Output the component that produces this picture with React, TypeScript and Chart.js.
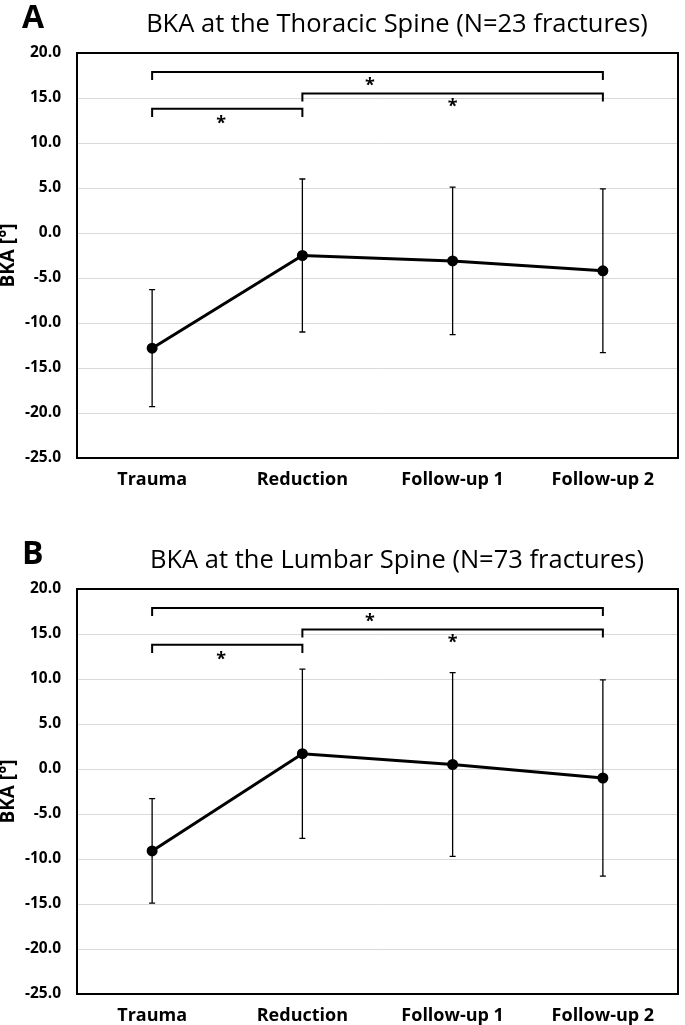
import React, { useEffect, useRef } from "react";
import { Chart, registerables } from "chart.js";

Chart.register(...registerables);

// ---- data ----
const categories = ["Trauma", "Reduction", "Follow-up 1", "Follow-up 2"];

const thoracicTitle = "BKA at the Thoracic Spine (N=23 fractures)";
const thoracicMean = [-12.8, -2.5, -3.1, -4.2];
const thoracicSD = [6.5, 8.5, 8.2, 9.1];

const lumbarTitle = "BKA at the Lumbar Spine (N=73 fractures)";
const lumbarMean = [-9.1, 1.7, 0.5, -1.0];
const lumbarSD = [5.8, 9.4, 10.2, 10.9];

const yMin = -25;
const yMax = 20;
const yStep = 5;
const yAxisTitle = "BKA [°]";

// significance brackets (category index from / to, level in axis units)
const bracketFrom = [0, 1, 0];
const bracketTo = [3, 3, 1];
const bracketLevel = [17.9, 15.5, 13.8];
const bracketDrop = 0.9;
const starX = [1.45, 2.0, 0.46];
const starY = [16.85, 14.45, 12.65];
const starText = "*";

const FONT = "'Open Sans', 'Noto Sans', sans-serif";

type PanelProps = {
  letter: string;
  title: string;
  means: number[];
  sd: number[];
  top: number;
  height: number;
};

function makeDecorPlugin(p: PanelProps) {
  return {
    id: "decor" + p.letter,
    beforeDatasetsDraw(chart: any) {
      const { ctx, scales } = chart;
      const x = scales.x;
      const y = scales.y;
      ctx.save();
      ctx.strokeStyle = "#000";
      ctx.lineWidth = 1.3;
      p.means.forEach((m, i) => {
        const px = x.getPixelForValue(i);
        const t = y.getPixelForValue(m + p.sd[i]);
        const b = y.getPixelForValue(m - p.sd[i]);
        ctx.beginPath();
        ctx.moveTo(px, t);
        ctx.lineTo(px, b);
        ctx.moveTo(px - 3, t);
        ctx.lineTo(px + 3, t);
        ctx.moveTo(px - 3, b);
        ctx.lineTo(px + 3, b);
        ctx.stroke();
      });
      ctx.restore();
    },
    afterDraw(chart: any) {
      const { ctx, chartArea, scales } = chart;
      const x = scales.x;
      const y = scales.y;
      ctx.save();
      // frame
      ctx.strokeStyle = "#000";
      ctx.lineWidth = 2;
      ctx.strokeRect(
        chartArea.left,
        chartArea.top,
        chartArea.right - chartArea.left,
        chartArea.bottom - chartArea.top
      );
      // brackets
      ctx.lineWidth = 2;
      bracketFrom.forEach((f, i) => {
        const x1 = x.getPixelForValue(f);
        const x2 = x.getPixelForValue(bracketTo[i]);
        const yl = y.getPixelForValue(bracketLevel[i]);
        const yd = y.getPixelForValue(bracketLevel[i] - bracketDrop);
        ctx.beginPath();
        ctx.moveTo(x1, yd);
        ctx.lineTo(x1, yl);
        ctx.lineTo(x2, yl);
        ctx.lineTo(x2, yd);
        ctx.stroke();
      });
      // stars
      ctx.fillStyle = "#000";
      ctx.font = `bold 18px ${FONT}`;
      ctx.textAlign = "center";
      ctx.textBaseline = "alphabetic";
      starX.forEach((sx, i) => {
        const m = ctx.measureText(starText);
        const cx = x.getPixelForValue(sx);
        const cy = y.getPixelForValue(starY[i]);
        const base = cy - (m.actualBoundingBoxDescent - m.actualBoundingBoxAscent) / 2;
        ctx.fillText(starText, cx, base);
      });
      // panel letter
      ctx.textAlign = "left";
      ctx.font = `bold 32px ${FONT}`;
      ctx.fillText(p.letter, 22, 28);
      // title
      ctx.font = `25.5px ${FONT}`;
      ctx.textAlign = "center";
      ctx.fillText(p.title, 397, 32);
      ctx.restore();
    },
  };
}

function Panel(p: PanelProps) {
  const ref = useRef<HTMLCanvasElement | null>(null);
  useEffect(() => {
    if (!ref.current) return;
    const chartBottom = 458;
    const chart = new Chart(ref.current, {
      type: "line",
      data: {
        labels: categories,
        datasets: [
          {
            data: p.means,
            borderColor: "#000",
            backgroundColor: "#000",
            borderWidth: 3,
            pointRadius: 4,
            pointBackgroundColor: "#000",
            pointBorderColor: "#000",
            tension: 0,
            fill: false,
          },
        ],
      },
      options: {
        responsive: false,
        animation: false,
        events: [],
        layout: { padding: { top: 53, right: 1, bottom: 0, left: 0 } },
        plugins: {
          legend: { display: false },
          tooltip: { enabled: false },
          title: { display: false },
        },
        scales: {
          x: {
            type: "category",
            offset: true,
            grid: { display: false, drawTicks: false },
            border: { display: false },
            ticks: {
              color: "#000",
              padding: 11,
              font: { family: FONT, size: 18, weight: "bold" },
              maxRotation: 0,
              autoSkip: false,
            },
            afterFit: (s: any) => {
              s.height = p.height - chartBottom;
            },
          },
          y: {
            min: yMin,
            max: yMax,
            grid: { color: "#d9d9d9", lineWidth: 1, drawTicks: false },
            border: { display: false },
            ticks: {
              stepSize: yStep,
              color: "#000",
              padding: 16,
              font: { family: FONT, size: 15.5, weight: "bold" },
              callback: (v: any) => Number(v).toFixed(1),
            },
            title: {
              display: true,
              text: yAxisTitle,
              color: "#000",
              padding: 0,
              font: { family: FONT, size: 19, weight: "bold", lineHeight: 0.95 },
            },
            afterFit: (s: any) => {
              s.width = 77;
            },
          },
        },
      },
      plugins: [makeDecorPlugin(p)],
    } as any);
    return () => chart.destroy();
  }, []);
  return (
    <canvas
      ref={ref}
      width={685}
      height={p.height}
      style={{ position: "absolute", left: 0, top: p.top, width: 685, height: p.height, display: "block" }}
    />
  );
}

export default function App() {
  return (
    <div style={{ position: "absolute", left: 0, top: 0, width: 685, height: 1025, background: "#fff" }}>
      <Panel letter="A" title={thoracicTitle} means={thoracicMean} sd={thoracicSD} top={0} height={536} />
      <Panel letter="B" title={lumbarTitle} means={lumbarMean} sd={lumbarSD} top={536} height={489} />
    </div>
  );
}
